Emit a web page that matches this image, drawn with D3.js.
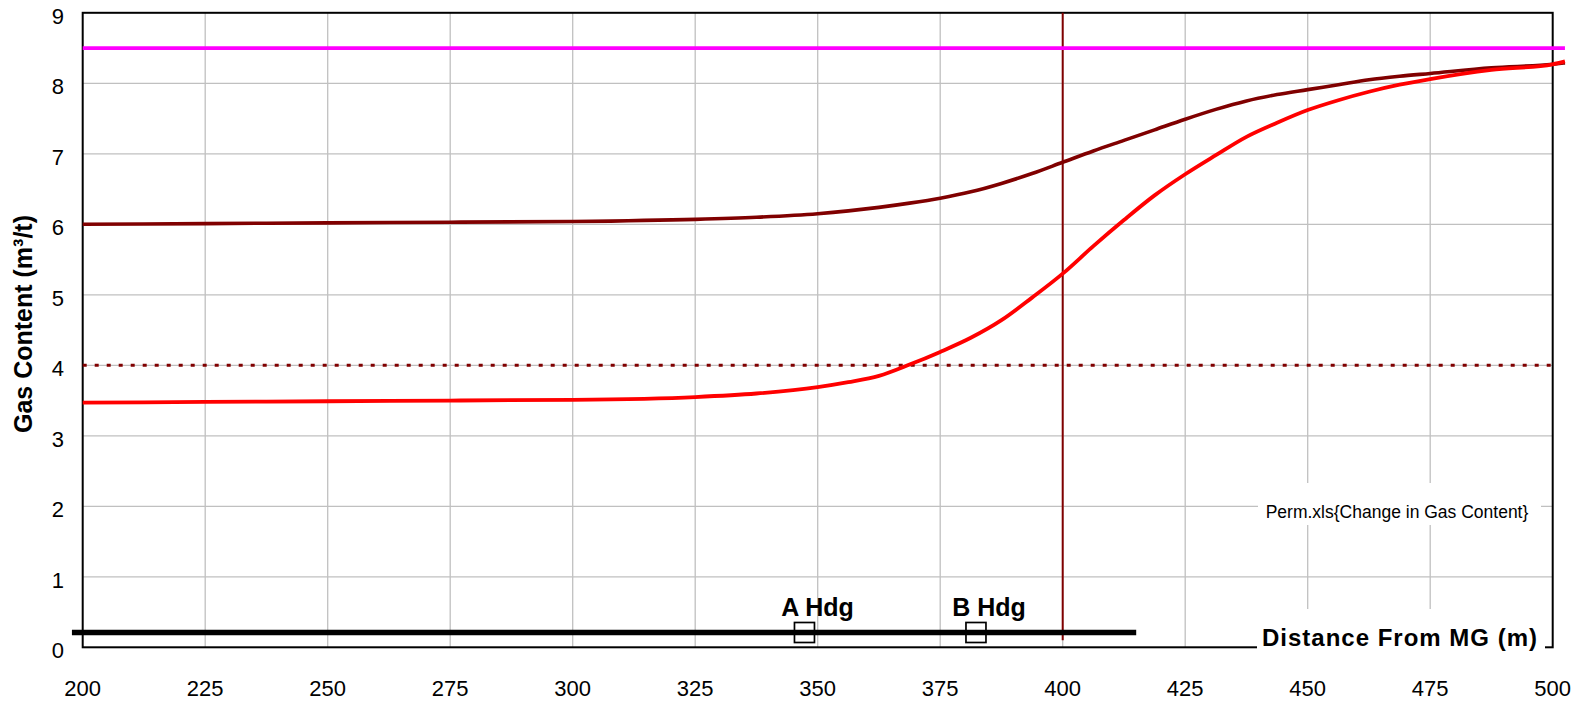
<!DOCTYPE html>
<html>
<head>
<meta charset="utf-8">
<script src="https://cdn.jsdelivr.net/npm/d3@7"></script>
<style>
  html, body { margin: 0; padding: 0; background: #fff; }
  svg { display: block; font-family: Arial, "Liberation Sans", sans-serif; }
</style>
</head>
<body>
<svg id="chart" width="1591" height="701"></svg>
<script>
// Gas content vs distance from MG
const distance = [200, 225, 250, 275, 300, 325, 337.5, 350, 356.25, 362.5, 368.75, 375, 381.25, 387.5, 393.75, 400,
    406.25, 412.5, 418.75, 425, 431.25, 437.5, 443.75, 450, 456.25, 462.5, 468.75, 475, 487.5, 500, 502.5];
const gasUpper = [6.00, 6.01, 6.02, 6.03, 6.04, 6.07, 6.10, 6.15, 6.19, 6.24, 6.30, 6.37, 6.46, 6.58, 6.72, 6.88,
    7.04, 7.19, 7.34, 7.49, 7.63, 7.75, 7.84, 7.91, 7.98, 8.05, 8.10, 8.14, 8.22, 8.27, 8.29];
const gasLower = [3.47, 3.48, 3.49, 3.50, 3.51, 3.55, 3.60, 3.69, 3.76, 3.85, 4.01, 4.19, 4.39, 4.64, 4.96, 5.30,
    5.69, 6.06, 6.41, 6.71, 6.98, 7.24, 7.44, 7.62, 7.76, 7.88, 7.98, 8.06, 8.19, 8.27, 8.31];

const xTicks = [200, 225, 250, 275, 300, 325, 350, 375, 400, 425, 450, 475, 500];
const yTicks = [0, 1, 2, 3, 4, 5, 6, 7, 8, 9];

const limitLevel = 8.5;        // magenta line
const thresholdLevel = 4;      // dotted line
const markerDistance = 400;    // vertical line
const headingLine = [197.8, 415];
const headingLevel = 0.21;
const headings = [
    { label: 'A Hdg', distance: 347.3 },
    { label: 'B Hdg', distance: 382.3 }
];

const svg = d3.select('#chart');
const plotLeft = 82.7, plotRight = 1552.7, plotTop = 12.8, plotBottom = 647.3;

const x = d3.scaleLinear().domain([200, 500]).range([plotLeft, plotRight]);
const y = d3.scaleLinear().domain([0, 9]).range([plotBottom, plotTop]);

// Gridlines
const grid = svg.append('g').attr('stroke', '#c0c0c0').attr('stroke-width', 1.3);
grid.selectAll('.vg').data(xTicks.slice(1, -1)).enter().append('line')
    .attr('x1', d => x(d)).attr('x2', d => x(d))
    .attr('y1', y(0)).attr('y2', y(9));
grid.selectAll('.hg').data(yTicks.slice(1, -1)).enter().append('line')
    .attr('x1', x(200)).attr('x2', x(500))
    .attr('y1', d => y(d)).attr('y2', d => y(d));

// Frame
svg.append('rect')
    .attr('x', plotLeft).attr('y', plotTop)
    .attr('width', plotRight - plotLeft).attr('height', plotBottom - plotTop)
    .attr('fill', 'none').attr('stroke', '#000').attr('stroke-width', 2);

// Source note with white background
svg.append('rect').attr('x', 1258).attr('y', 483).attr('width', 283).attr('height', 42).attr('fill', '#fff');
svg.append('text')
    .attr('x', 1397).attr('y', 518)
    .attr('text-anchor', 'middle')
    .style('font-size', '17.5px')
    .text('Perm.xls{Change in Gas Content}');

// X axis title box
svg.append('rect').attr('x', 1257).attr('y', 609).attr('width', 288).attr('height', 41).attr('fill', '#fff');
svg.append('text')
    .attr('x', 1400).attr('y', 646)
    .attr('text-anchor', 'middle')
    .style('font-size', '24px')
    .style('font-weight', 'bold')
    .style('letter-spacing', '1px')
    .text('Distance From MG (m)');

// Tick labels
svg.selectAll('.xt').data(xTicks).enter().append('text')
    .attr('x', d => x(d)).attr('y', 696)
    .attr('text-anchor', 'middle')
    .style('font-size', '22px')
    .text(d => d);
svg.selectAll('.yt').data(yTicks).enter().append('text')
    .attr('x', 64).attr('y', d => y(d) + 11)
    .attr('text-anchor', 'end')
    .style('font-size', '22px')
    .text(d => d);

// Y axis title
svg.append('text')
    .attr('transform', `translate(32, ${(plotTop + plotBottom) / 2 - 6}) rotate(-90)`)
    .attr('text-anchor', 'middle')
    .style('font-size', '25px')
    .style('font-weight', 'bold')
    .text('Gas Content (m³/t)');

// Threshold dotted line
svg.append('line')
    .attr('x1', x(200)).attr('x2', x(500))
    .attr('y1', y(thresholdLevel)).attr('y2', y(thresholdLevel))
    .attr('stroke', '#800000').attr('stroke-width', 3)
    .attr('stroke-dasharray', '4,8');

// Vertical marker
svg.append('line')
    .attr('x1', x(markerDistance)).attr('x2', x(markerDistance))
    .attr('y1', y(9)).attr('y2', y(0.1))
    .attr('stroke', '#800000').attr('stroke-width', 2);

// Limit line
svg.append('line')
    .attr('x1', x(200)).attr('x2', x(d3.max(distance)))
    .attr('y1', y(limitLevel)).attr('y2', y(limitLevel))
    .attr('stroke', '#ff00ff').attr('stroke-width', 3.8);

// Curves
const line = d3.line().x(d => x(d[0])).y(d => y(d[1])).curve(d3.curveMonotoneX);
svg.append('path')
    .datum(d3.zip(distance, gasUpper))
    .attr('d', line)
    .attr('fill', 'none').attr('stroke', '#800000').attr('stroke-width', 3.6);
svg.append('path')
    .datum(d3.zip(distance, gasLower))
    .attr('d', line)
    .attr('fill', 'none').attr('stroke', '#ff0000').attr('stroke-width', 3.8);

// Heading line and markers
svg.append('line')
    .attr('x1', x(headingLine[0])).attr('x2', x(headingLine[1]))
    .attr('y1', y(headingLevel)).attr('y2', y(headingLevel))
    .attr('stroke', '#000').attr('stroke-width', 5.5);

const hd = svg.selectAll('.hd').data(headings).enter().append('g');
hd.append('rect')
    .attr('x', d => x(d.distance) - 10).attr('y', y(headingLevel) - 10)
    .attr('width', 20).attr('height', 20)
    .attr('fill', 'none').attr('stroke', '#000').attr('stroke-width', 1.7);
hd.append('text')
    .attr('x', d => x(d.distance) + 13).attr('y', 616)
    .attr('text-anchor', 'middle')
    .style('font-size', '25px')
    .style('font-weight', 'bold')
    .text(d => d.label);
</script>
</body>
</html>
